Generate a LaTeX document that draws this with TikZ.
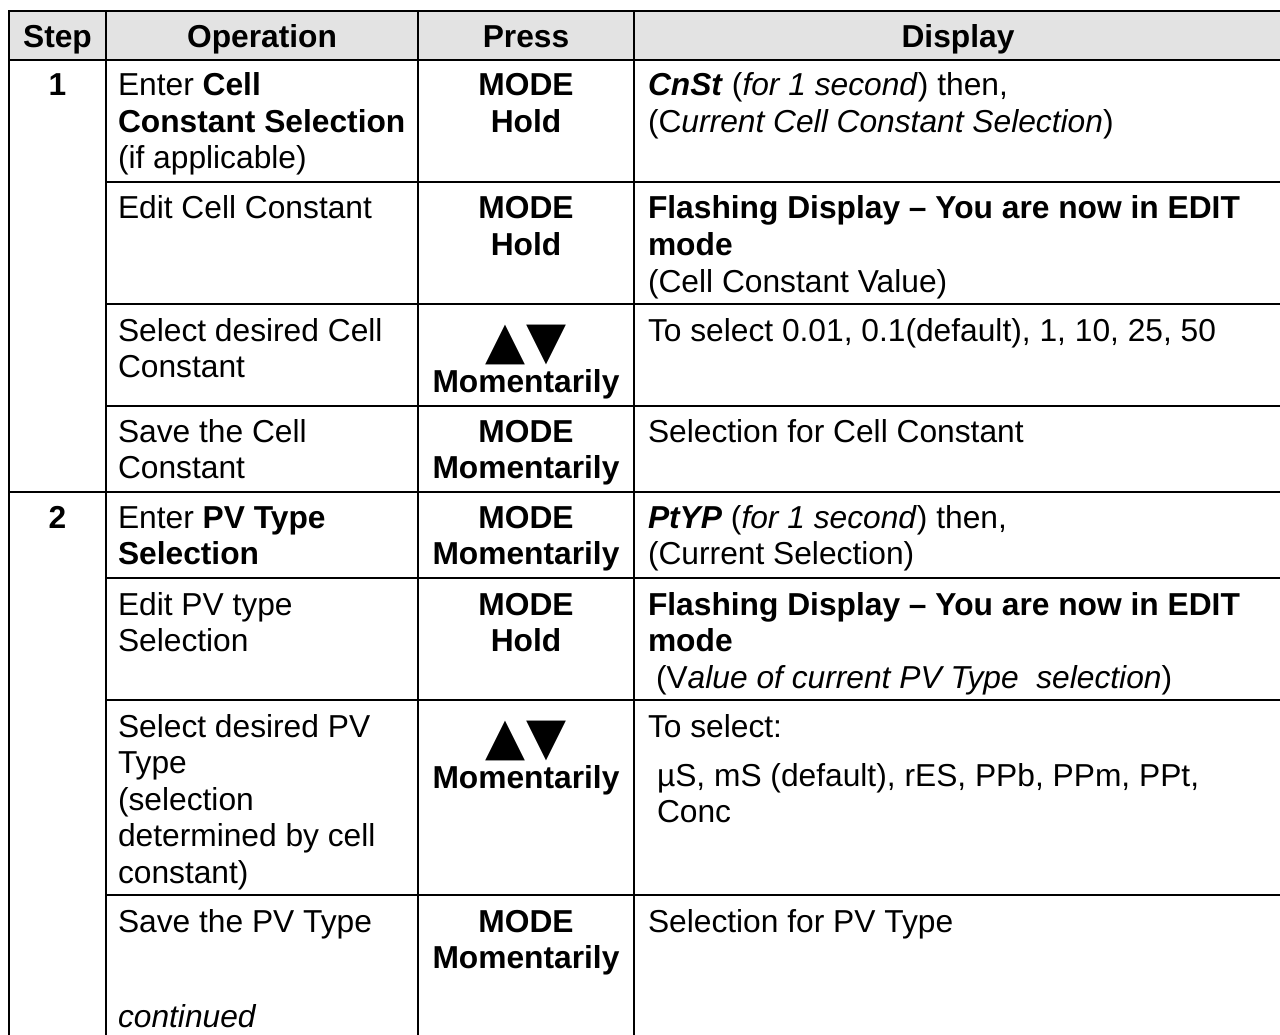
\documentclass[tikz,border=0pt]{standalone}
\usepackage{fontspec}
\setmainfont{Liberation Sans}
\newfontfamily\symfont{DejaVu Sans}
\definecolor{hdrgray}{HTML}{E3E3E3}
\begin{document}
\begin{tikzpicture}[x=0.75pt,y=-0.75pt,
  every node/.style={inner sep=0pt, outer sep=0pt, font=\fontsize{23.8}{27}\selectfont},
  lt/.style={anchor=base west},
  ct/.style={anchor=base},
  keys/.style={anchor=base, font=\symfont\fontsize{39}{39}\selectfont},
  rule/.style={line width=1.6pt}]
\useasboundingbox (0,0) rectangle (1280,1034);

% header band
\fill[hdrgray] (9,11) rectangle (1283,60);

% frame and column rules
\draw[rule] (9,11) -- (1283,11);
\draw[rule] (9,60) -- (1283,60);
\draw[rule] (9,10.2) -- (9,1040);
\draw[rule] (106,10.2) -- (106,1040);
\draw[rule] (418,10.2) -- (418,1040);
\draw[rule] (634,10.2) -- (634,1040);
\draw[rule] (1283,10.2) -- (1283,1040);

% row rules
\draw[rule] (106,182) -- (1283,182);
\draw[rule] (106,304) -- (1283,304);
\draw[rule] (106,406) -- (1283,406);
\draw[rule] (9,492) -- (1283,492);
\draw[rule] (106,578) -- (1283,578);
\draw[rule] (106,700) -- (1283,700);
\draw[rule] (106,895) -- (1283,895);

% header
\node[ct] (hStep)  at (57.5,48) {\textbf{Step}};
\node[ct] (hOp)    at (262,48)  {\textbf{Operation}};
\node[ct] (hPress) at (526,48)  {\textbf{Press}};
\node[ct] (hDisp)  at (958,48)  {\textbf{Display}};

% step 1 -- enter cell constant selection
\node[ct] (s1)   at (57.5,96) {\textbf{1}};
\node[lt] (o1a1) at (118,96)    {Enter \textbf{Cell}};
\node[lt] (o1a2) at (118,132.5) {\textbf{Constant Selection}};
\node[lt] (o1a3) at (118,169)   {(if applicable)};
\node[ct] (p1a1) at (526,96)    {\textbf{MODE}};
\node[ct] (p1a2) at (526,132.5) {\textbf{Hold}};
\node[lt] (d1a1) at (648,96)    {\textbf{\textit{CnSt}} (\textit{for 1 second}) then,};
\node[lt] (d1a2) at (648,132.5) {(C\textit{urrent Cell Constant Selection})};

% edit cell constant
\node[lt] (o1b1) at (118,219)   {Edit Cell Constant};
\node[ct] (p1b1) at (526,219)   {\textbf{MODE}};
\node[ct] (p1b2) at (526,255.5) {\textbf{Hold}};
\node[lt] (d1b1) at (648,219)   {\textbf{Flashing Display – You are now in EDIT}};
\node[lt] (d1b2) at (648,255.5) {\textbf{mode}};
\node[lt] (d1b3) at (648,292)   {(Cell Constant Value)};

% select cell constant
\node[lt] (o1c1) at (118,341)   {Select desired Cell};
\node[lt] (o1c2) at (118,377.5) {Constant};
\node[keys] (p1c1) at (526,358) {▲\hspace{1.5pt}▼};
\node[ct] (p1c2) at (526,392)   {\textbf{Momentarily}};
\node[lt] (d1c1) at (648,341)   {To select 0.01, 0.1(default), 1, 10, 25, 50};

% save cell constant
\node[lt] (o1d1) at (118,442)   {Save the Cell};
\node[lt] (o1d2) at (118,478.5) {Constant};
\node[ct] (p1d1) at (526,442)   {\textbf{MODE}};
\node[ct] (p1d2) at (526,478.5) {\textbf{Momentarily}};
\node[lt] (d1d1) at (648,442)   {Selection for Cell Constant};

% step 2 -- enter PV type selection
\node[ct] (s2)   at (57.5,528) {\textbf{2}};
\node[lt] (o2a1) at (118,528)   {Enter \textbf{PV Type}};
\node[lt] (o2a2) at (118,564.5) {\textbf{Selection}};
\node[ct] (p2a1) at (526,528)   {\textbf{MODE}};
\node[ct] (p2a2) at (526,564.5) {\textbf{Momentarily}};
\node[lt] (d2a1) at (648,528)   {\textbf{\textit{PtYP}} (\textit{for 1 second}) then,};
\node[lt] (d2a2) at (648,564.5) {(Current Selection)};

% edit PV type
\node[lt] (o2b1) at (118,615)   {Edit PV type};
\node[lt] (o2b2) at (118,651.5) {Selection};
\node[ct] (p2b1) at (526,615)   {\textbf{MODE}};
\node[ct] (p2b2) at (526,651.5) {\textbf{Hold}};
\node[lt] (d2b1) at (648,615)   {\textbf{Flashing Display – You are now in EDIT}};
\node[lt] (d2b2) at (648,651.5) {\textbf{mode}};
\node[lt] (d2b3) at (656,688)   {(V\textit{alue of current PV Type\ \ selection})};

% select PV type
\node[lt] (o2c1) at (118,737)   {Select desired PV};
\node[lt] (o2c2) at (118,773.5) {Type};
\node[lt] (o2c3) at (118,810)   {(selection};
\node[lt] (o2c4) at (118,846.5) {determined by cell};
\node[lt] (o2c5) at (118,883)   {constant)};
\node[keys] (p2c1) at (526,754) {▲\hspace{1.5pt}▼};
\node[ct] (p2c2) at (526,788)   {\textbf{Momentarily}};
\node[lt] (d2c1) at (648,737)   {To select:};
\node[lt] (d2c2) at (657,786)   {µS, mS (default), rES, PPb, PPm, PPt,};
\node[lt] (d2c3) at (657,822)   {Conc};

% save PV type
\node[lt] (o2d1) at (118,932)   {Save the PV Type};
\node[lt] (o2d2) at (118,1027)  {\textit{continued}};
\node[ct] (p2d1) at (526,932)   {\textbf{MODE}};
\node[ct] (p2d2) at (526,968.5) {\textbf{Momentarily}};
\node[lt] (d2d1) at (648,932)   {Selection for PV Type};
\end{tikzpicture}
\end{document}
